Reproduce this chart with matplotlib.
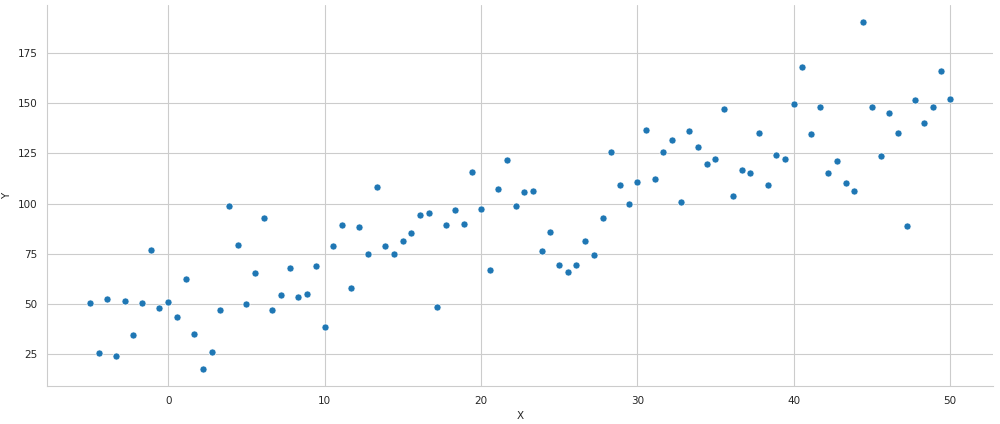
import matplotlib
matplotlib.use("Agg")
import matplotlib.pyplot as plt
import seaborn as sns

# x positions (evenly spaced, -5 .. 50, 100 points)
x = [-5.0, -4.44, -3.89, -3.33, -2.78, -2.22, -1.67, -1.11, -0.56, 0.0,
     0.56, 1.11, 1.67, 2.22, 2.78, 3.33, 3.89, 4.44, 5.0, 5.56,
     6.11, 6.67, 7.22, 7.78, 8.33, 8.89, 9.44, 10.0, 10.56, 11.11,
     11.67, 12.22, 12.78, 13.33, 13.89, 14.44, 15.0, 15.56, 16.11, 16.67,
     17.22, 17.78, 18.33, 18.89, 19.44, 20.0, 20.56, 21.11, 21.67, 22.22,
     22.78, 23.33, 23.89, 24.44, 25.0, 25.56, 26.11, 26.67, 27.22, 27.78,
     28.33, 28.89, 29.44, 30.0, 30.56, 31.11, 31.67, 32.22, 32.78, 33.33,
     33.89, 34.44, 35.0, 35.56, 36.11, 36.67, 37.22, 37.78, 38.33, 38.89,
     39.44, 40.0, 40.56, 41.11, 41.67, 42.22, 42.78, 43.33, 43.89, 44.44,
     45.0, 45.56, 46.11, 46.67, 47.22, 47.78, 48.33, 48.89, 49.44, 50.0]

# y values
y = [50.3, 25.5, 52.3, 24.0, 51.3, 34.3, 50.3, 77.0, 47.8, 50.8,
     43.3, 62.3, 34.8, 17.8, 25.8, 46.8, 98.8, 79.3, 49.8, 65.3,
     92.8, 46.8, 54.3, 67.8, 53.3, 54.8, 68.8, 38.3, 78.8, 89.3,
     57.8, 88.3, 74.8, 108.3, 78.8, 74.8, 81.3, 85.3, 94.3, 95.3,
     48.3, 89.3, 96.8, 89.8, 115.8, 97.3, 66.8, 107.3, 121.8, 98.8,
     105.8, 106.3, 76.3, 85.8, 69.3, 65.8, 69.3, 81.3, 74.3, 92.8,
     125.8, 109.3, 99.8, 110.8, 136.8, 112.3, 125.8, 131.8, 100.8, 136.3,
     128.3, 119.8, 122.3, 147.3, 103.8, 116.8, 115.3, 135.3, 109.3, 124.3,
     122.3, 149.8, 168.3, 134.8, 148.3, 115.3, 121.3, 110.3, 106.3, 190.3,
     148.3, 123.8, 145.3, 135.3, 88.8, 151.8, 140.3, 148.3, 166.3, 152.3]

sns.set_style("whitegrid")
plt.rcParams['font.size'] = 7.5

fig = plt.figure(figsize=(10, 4.24), dpi=100)
ax = fig.add_axes([0.047, 0.09, 0.946, 0.898])
sns.scatterplot(x=x, y=y, ax=ax, s=26, color="#1f77b4", edgecolor="white", linewidth=0.5)
ax.set_xlabel("X", fontsize=7.5)
ax.set_ylabel("Y", fontsize=7.5)
ax.tick_params(labelsize=7.5)
sns.despine(ax=ax)

fig.savefig("out.png", dpi=100)
